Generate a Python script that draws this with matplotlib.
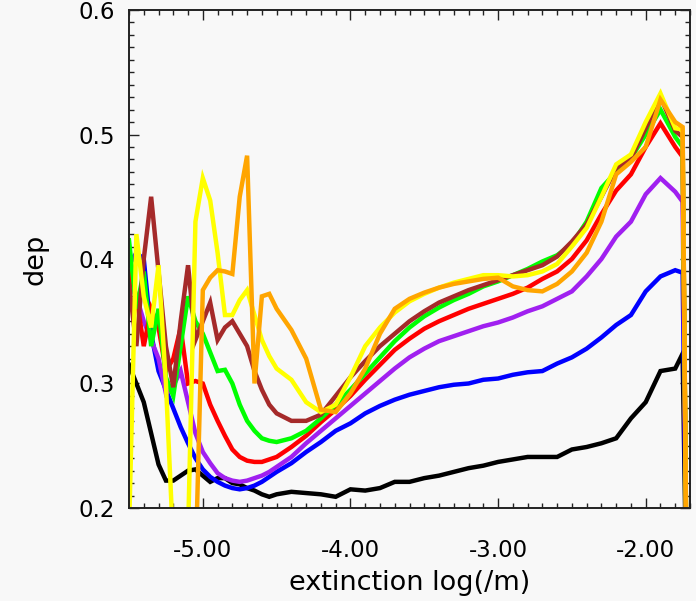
import matplotlib
matplotlib.use("Agg")
import matplotlib.pyplot as plt
from matplotlib.ticker import MultipleLocator, FormatStrFormatter

# extinction bins (log10 of 1/m)
ext = [-5.50, -5.45, -5.40, -5.35, -5.30, -5.25, -5.20, -5.15, -5.10, -5.05,
       -5.00, -4.95, -4.90, -4.85, -4.80, -4.75, -4.70, -4.65, -4.60, -4.55,
       -4.50, -4.4, -4.3, -4.2, -4.1, -4.0, -3.9, -3.8, -3.7, -3.6, -3.5,
       -3.4, -3.3, -3.2, -3.1, -3.0, -2.9, -2.8, -2.7, -2.6, -2.5, -2.4,
       -2.3, -2.2, -2.1, -2.0, -1.9, -1.8, -1.75, -1.72]

dep_black = [0.315, 0.300, 0.285, 0.260, 0.235, 0.222, 0.222, 0.226, 0.230, 0.231,
             0.226, 0.221, 0.224, 0.224, 0.220, 0.219, 0.216, 0.214, 0.211, 0.209,
             0.211, 0.213, 0.212, 0.211, 0.209, 0.215, 0.214, 0.216, 0.221, 0.221, 0.224,
             0.226, 0.229, 0.232, 0.234, 0.237, 0.239, 0.241, 0.241, 0.241, 0.247, 0.249,
             0.252, 0.256, 0.272, 0.285, 0.310, 0.312, 0.324, 0.10]

dep_blue = [0.395, 0.405, 0.400, 0.340, 0.310, 0.295, 0.280, 0.265, 0.252, 0.240,
            0.231, 0.225, 0.221, 0.218, 0.216, 0.215, 0.216, 0.218, 0.221, 0.225,
            0.229, 0.236, 0.245, 0.253, 0.262, 0.268, 0.276, 0.282, 0.287, 0.291, 0.294,
            0.297, 0.299, 0.300, 0.303, 0.304, 0.307, 0.309, 0.310, 0.316, 0.321, 0.328,
            0.337, 0.347, 0.355, 0.374, 0.386, 0.391, 0.389, 0.10]

dep_purple = [0.380, 0.370, 0.350, 0.335, 0.320, 0.292, 0.298, 0.310, 0.285, 0.260,
              0.245, 0.236, 0.228, 0.224, 0.222, 0.221, 0.222, 0.224, 0.226, 0.229,
              0.233, 0.241, 0.252, 0.262, 0.272, 0.282, 0.292, 0.302, 0.312, 0.321, 0.328,
              0.334, 0.338, 0.342, 0.346, 0.349, 0.353, 0.358, 0.362, 0.368, 0.374, 0.386,
              0.400, 0.418, 0.430, 0.452, 0.465, 0.454, 0.446, 0.10]

dep_red = [0.390, 0.370, 0.330, 0.360, 0.345, 0.310, 0.320, 0.345, 0.300, 0.302,
           0.300, 0.283, 0.270, 0.258, 0.247, 0.241, 0.238, 0.237, 0.237, 0.239,
           0.241, 0.249, 0.258, 0.269, 0.279, 0.290, 0.303, 0.315, 0.327, 0.336, 0.344,
           0.350, 0.355, 0.360, 0.364, 0.368, 0.372, 0.377, 0.384, 0.390, 0.400, 0.415,
           0.436, 0.455, 0.468, 0.490, 0.509, 0.490, 0.482, 0.10]

dep_green = [0.415, 0.360, 0.390, 0.330, 0.360, 0.305, 0.290, 0.330, 0.370, 0.350,
             0.340, 0.325, 0.310, 0.311, 0.300, 0.283, 0.270, 0.262, 0.256, 0.254,
             0.253, 0.256, 0.262, 0.272, 0.283, 0.295, 0.308, 0.321, 0.334, 0.345, 0.354,
             0.361, 0.367, 0.372, 0.378, 0.382, 0.387, 0.392, 0.398, 0.403, 0.412, 0.430,
             0.457, 0.470, 0.481, 0.500, 0.520, 0.498, 0.490, 0.10]

dep_brown = [0.380, 0.330, 0.400, 0.450, 0.390, 0.330, 0.297, 0.350, 0.395, 0.335,
             0.350, 0.365, 0.335, 0.345, 0.350, 0.340, 0.330, 0.310, 0.295, 0.283,
             0.276, 0.270, 0.270, 0.275, 0.290, 0.305, 0.318, 0.330, 0.340, 0.350, 0.358,
             0.365, 0.370, 0.375, 0.379, 0.383, 0.387, 0.391, 0.395, 0.402, 0.414, 0.428,
             0.450, 0.473, 0.481, 0.505, 0.530, 0.503, 0.498, 0.10]

dep_yellow = [0.180, 0.420, 0.370, 0.345, 0.395, 0.300, 0.170, 0.170, 0.180, 0.430,
              0.465, 0.447, 0.405, 0.355, 0.355, 0.367, 0.375, 0.355, 0.335, 0.322,
              0.312, 0.303, 0.285, 0.277, 0.283, 0.305, 0.330, 0.345, 0.357, 0.366, 0.372,
              0.377, 0.381, 0.384, 0.387, 0.387, 0.386, 0.387, 0.390, 0.396, 0.410, 0.425,
              0.450, 0.476, 0.484, 0.510, 0.533, 0.505, 0.504, 0.10]

dep_orange = [0.150, 0.150, 0.150, 0.150, 0.150, 0.150, 0.150, 0.150, 0.150, 0.150,
              0.375, 0.385, 0.391, 0.390, 0.388, 0.450, 0.483, 0.300, 0.370, 0.372,
              0.360, 0.343, 0.320, 0.279, 0.277, 0.292, 0.312, 0.340, 0.360, 0.368, 0.373,
              0.377, 0.380, 0.382, 0.384, 0.385, 0.378, 0.375, 0.374, 0.380, 0.390, 0.405,
              0.430, 0.468, 0.478, 0.490, 0.528, 0.510, 0.506, 0.10]

series = [
    (dep_black, "black"),
    (dep_blue, "#0000ff"),
    (dep_purple, "#a020f0"),
    (dep_red, "#ff0000"),
    (dep_green, "#00ff00"),
    (dep_brown, "#a52a2a"),
    (dep_yellow, "#ffff00"),
    (dep_orange, "#ffa500"),
]

bg = "#f8f8f8"
fig = plt.figure(figsize=(6.96, 6.01), dpi=100, facecolor=bg)
ax = fig.add_axes([129 / 696, 93 / 601, 561 / 696, 498 / 601], facecolor=bg)

for vals, col in series:
    ax.plot(ext, vals, color=col, lw=3.2, solid_joinstyle="miter")

ax.set_xlim(-5.5, -1.7)
ax.set_ylim(0.2, 0.6)

ax.xaxis.set_major_locator(MultipleLocator(1.0))
ax.xaxis.set_minor_locator(MultipleLocator(0.1))
ax.yaxis.set_major_locator(MultipleLocator(0.1))
ax.yaxis.set_minor_locator(MultipleLocator(0.01))
ax.xaxis.set_major_formatter(FormatStrFormatter("%.2f"))
ax.yaxis.set_major_formatter(FormatStrFormatter("%.1f"))

ax.tick_params(which="both", direction="in", top=True, right=True, width=1.0, color="#222222")
ax.tick_params(which="major", length=7.5)
ax.tick_params(which="minor", length=3.6)
ax.tick_params(axis="x", which="major", pad=22, labelsize=16.5)
ax.tick_params(axis="y", which="major", pad=10, labelsize=16.5)

for sp in ax.spines.values():
    sp.set_linewidth(1.4)
    sp.set_color("#222222")

ax.set_xlabel("extinction log(/m)", fontsize=19.5, labelpad=6)
ax.set_ylabel("dep", fontsize=19.5, labelpad=22)

fig.savefig("out.png", dpi=100, facecolor=bg)
